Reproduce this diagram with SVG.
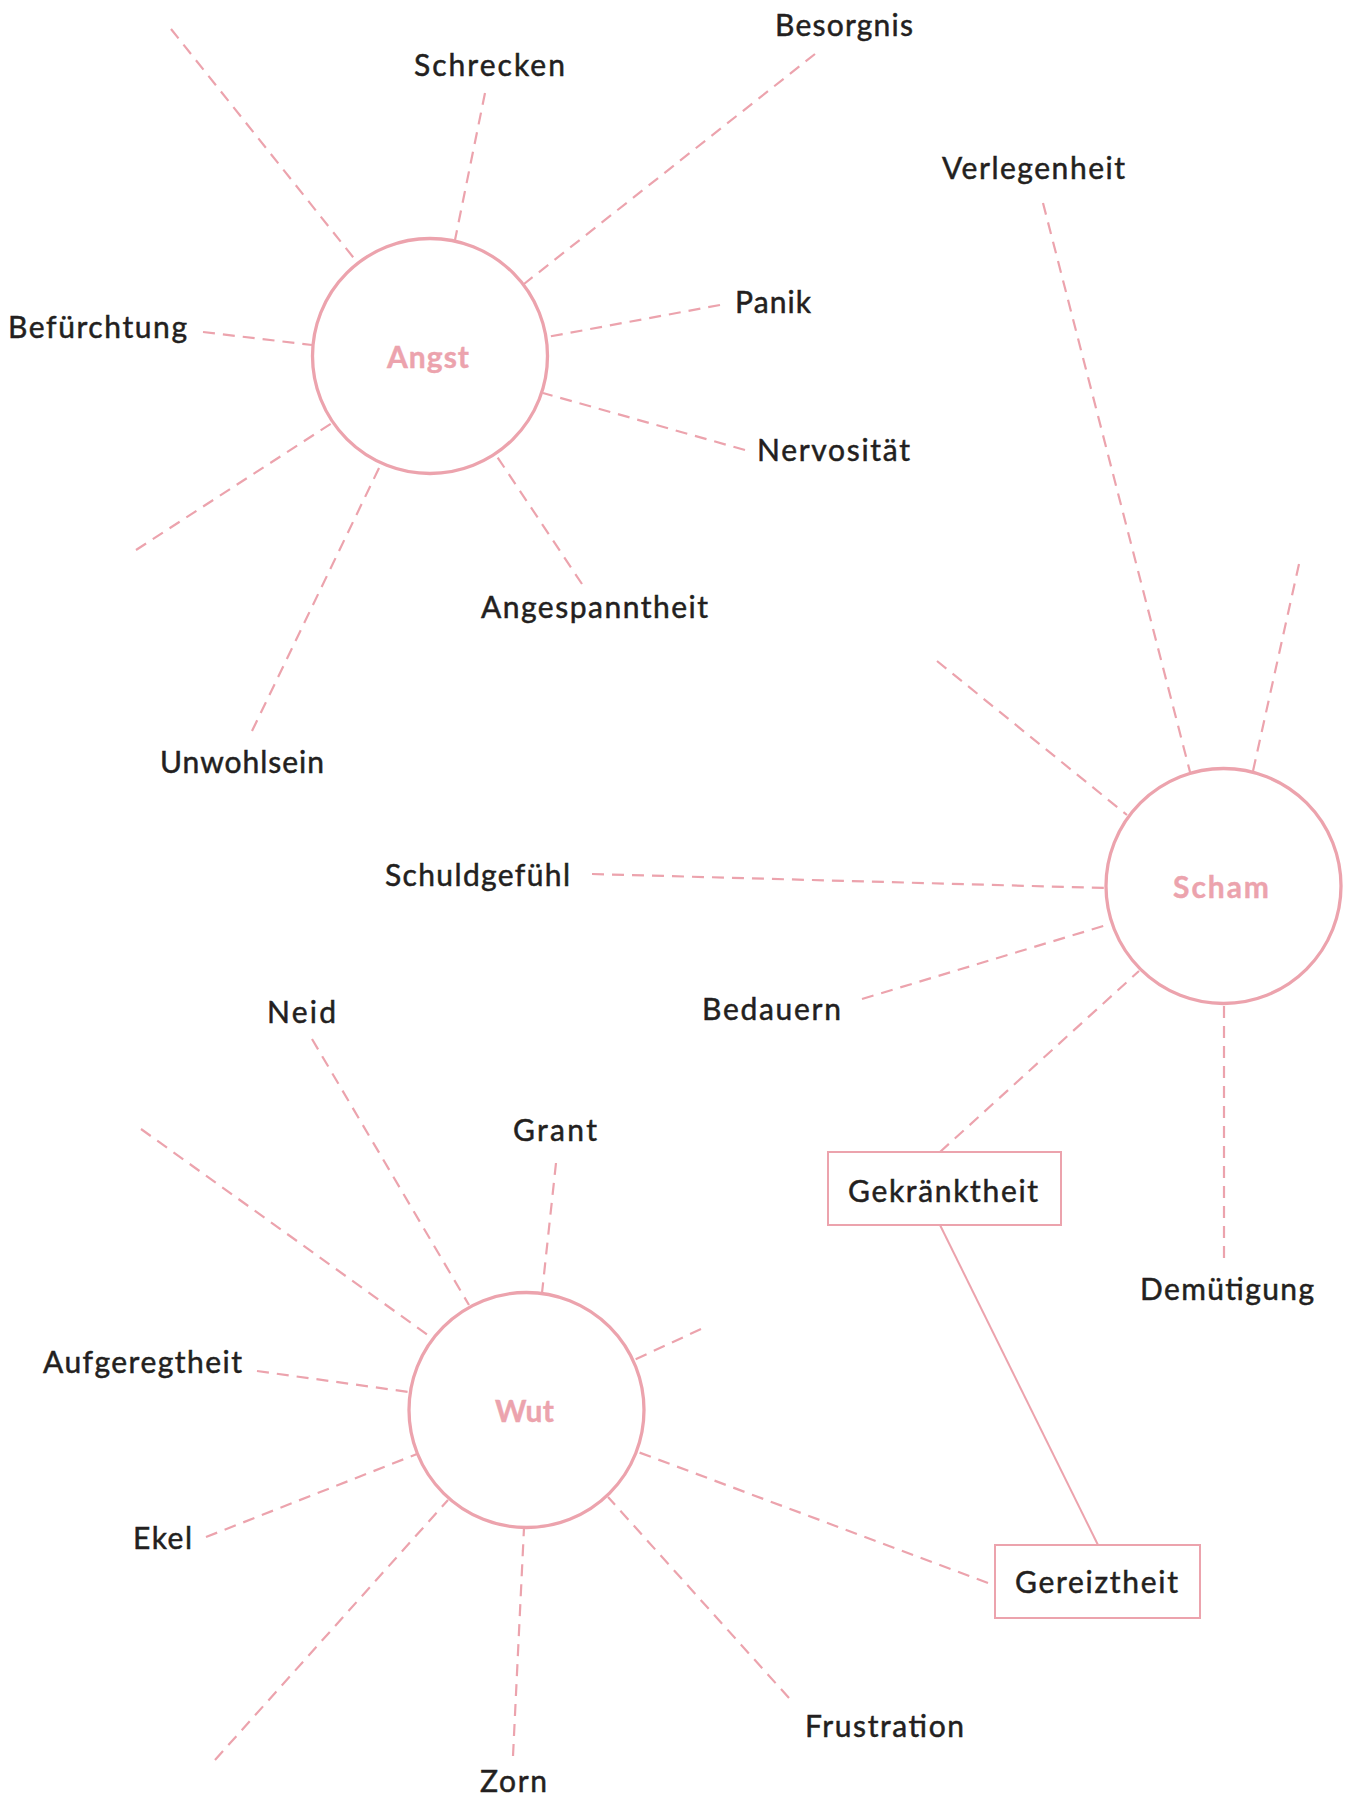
<svg xmlns="http://www.w3.org/2000/svg" width="1351" height="1796" viewBox="0 0 1351 1796">
<style>
.bg{fill:#ffffff}
.hub{fill:#ffffff;stroke:#eca3ad;stroke-width:3.3}
.hubt{font-family:Lato,"Liberation Sans",sans-serif;font-weight:bold;font-size:30px;fill:#eca3ad;stroke:#eca3ad;stroke-width:0.4}
.lbl{font-family:Lato,"Liberation Sans",sans-serif;font-size:30px;fill:#231f20;stroke:#231f20;stroke-width:0.5}
.box{fill:#ffffff;stroke:#eca3ad;stroke-width:2}
.dash{stroke:#eca3ad;stroke-width:2.2;stroke-dasharray:12 8;fill:none}
.solid{stroke:#eca3ad;stroke-width:2;fill:none}
</style>
<rect class="bg" x="0" y="0" width="1351" height="1796"/>
<g id="connectors">
<line class="dash" x1="171" y1="29" x2="357" y2="262"/>
<line class="dash" x1="485" y1="93" x2="455" y2="240"/>
<line class="dash" x1="815" y1="54" x2="524" y2="284"/>
<line class="dash" x1="720" y1="305" x2="547" y2="337"/>
<line class="dash" x1="745" y1="450" x2="543" y2="393"/>
<line class="dash" x1="582" y1="584" x2="496" y2="455"/>
<line class="dash" x1="252" y1="731" x2="381" y2="464"/>
<line class="dash" x1="136" y1="550" x2="332" y2="423"/>
<line class="dash" x1="203" y1="332" x2="312" y2="345"/>
<line class="dash" x1="1043" y1="203" x2="1190" y2="772"/>
<line class="dash" x1="1299" y1="564" x2="1253" y2="771"/>
<line class="dash" x1="937" y1="661" x2="1127" y2="815"/>
<line class="dash" x1="592" y1="874" x2="1105" y2="888"/>
<line class="dash" x1="862" y1="999" x2="1110" y2="924"/>
<line class="dash" x1="940" y1="1152" x2="1139" y2="971"/>
<line class="dash" x1="1224" y1="1258" x2="1224" y2="1003"/>
<line class="dash" x1="141" y1="1129" x2="432" y2="1338"/>
<line class="dash" x1="312" y1="1039" x2="469" y2="1305"/>
<line class="dash" x1="556" y1="1163" x2="542" y2="1293"/>
<line class="dash" x1="701" y1="1329" x2="634" y2="1360"/>
<line class="dash" x1="988" y1="1583" x2="638" y2="1452"/>
<line class="dash" x1="789" y1="1698" x2="608" y2="1497"/>
<line class="dash" x1="513" y1="1756" x2="524" y2="1528"/>
<line class="dash" x1="215" y1="1760" x2="448" y2="1500"/>
<line class="dash" x1="206" y1="1537" x2="417" y2="1454"/>
<line class="dash" x1="257" y1="1371" x2="409" y2="1392"/>
<line class="solid" x1="940" y1="1225" x2="1098" y2="1545"/>
</g>
<g id="angst"><circle class="hub" cx="430" cy="356" r="117.5"/><text class="hubt" x="387" y="368" textLength="82">Angst</text></g>
<g id="scham"><circle class="hub" cx="1223.5" cy="886" r="117.5"/><text class="hubt" x="1173" y="898" textLength="96">Scham</text></g>
<g id="wut"><circle class="hub" cx="526.5" cy="1410" r="117.5"/><text class="hubt" x="495" y="1422" textLength="59">Wut</text></g>
<g id="schrecken"><text class="lbl" x="414" y="76" textLength="151">Schrecken</text></g>
<g id="besorgnis"><text class="lbl" x="775" y="36" textLength="138">Besorgnis</text></g>
<g id="verlegenheit"><text class="lbl" x="942" y="179" textLength="183">Verlegenheit</text></g>
<g id="panik"><text class="lbl" x="735" y="313" textLength="76">Panik</text></g>
<g id="befuerchtung"><text class="lbl" x="8" y="338" textLength="179">Befürchtung</text></g>
<g id="nervositaet"><text class="lbl" x="757" y="461" textLength="153">Nervosität</text></g>
<g id="angespanntheit"><text class="lbl" x="481" y="618" textLength="227">Angespanntheit</text></g>
<g id="unwohlsein"><text class="lbl" x="160" y="773" textLength="164">Unwohlsein</text></g>
<g id="schuldgefuehl"><text class="lbl" x="385" y="886" textLength="185">Schuldgefühl</text></g>
<g id="bedauern"><text class="lbl" x="702" y="1020" textLength="139">Bedauern</text></g>
<g id="neid"><text class="lbl" x="267" y="1023" textLength="69">Neid</text></g>
<g id="grant"><text class="lbl" x="513" y="1141" textLength="84">Grant</text></g>
<g id="gekraenktheit"><rect class="box" x="828" y="1152" width="233" height="73"/><text class="lbl" x="848" y="1202" textLength="190">Gekränktheit</text></g>
<g id="demuetigung"><text class="lbl" x="1140" y="1300" textLength="174">Demütigung</text></g>
<g id="aufgeregtheit"><text class="lbl" x="43" y="1373" textLength="199">Aufgeregtheit</text></g>
<g id="ekel"><text class="lbl" x="133" y="1549" textLength="59">Ekel</text></g>
<g id="gereiztheit"><rect class="box" x="995" y="1545" width="205" height="73"/><text class="lbl" x="1015" y="1593" textLength="163">Gereiztheit</text></g>
<g id="frustration"><text class="lbl" x="805" y="1737" textLength="159">Frustration</text></g>
<g id="zorn"><text class="lbl" x="480" y="1792" textLength="67">Zorn</text></g>
</svg>
